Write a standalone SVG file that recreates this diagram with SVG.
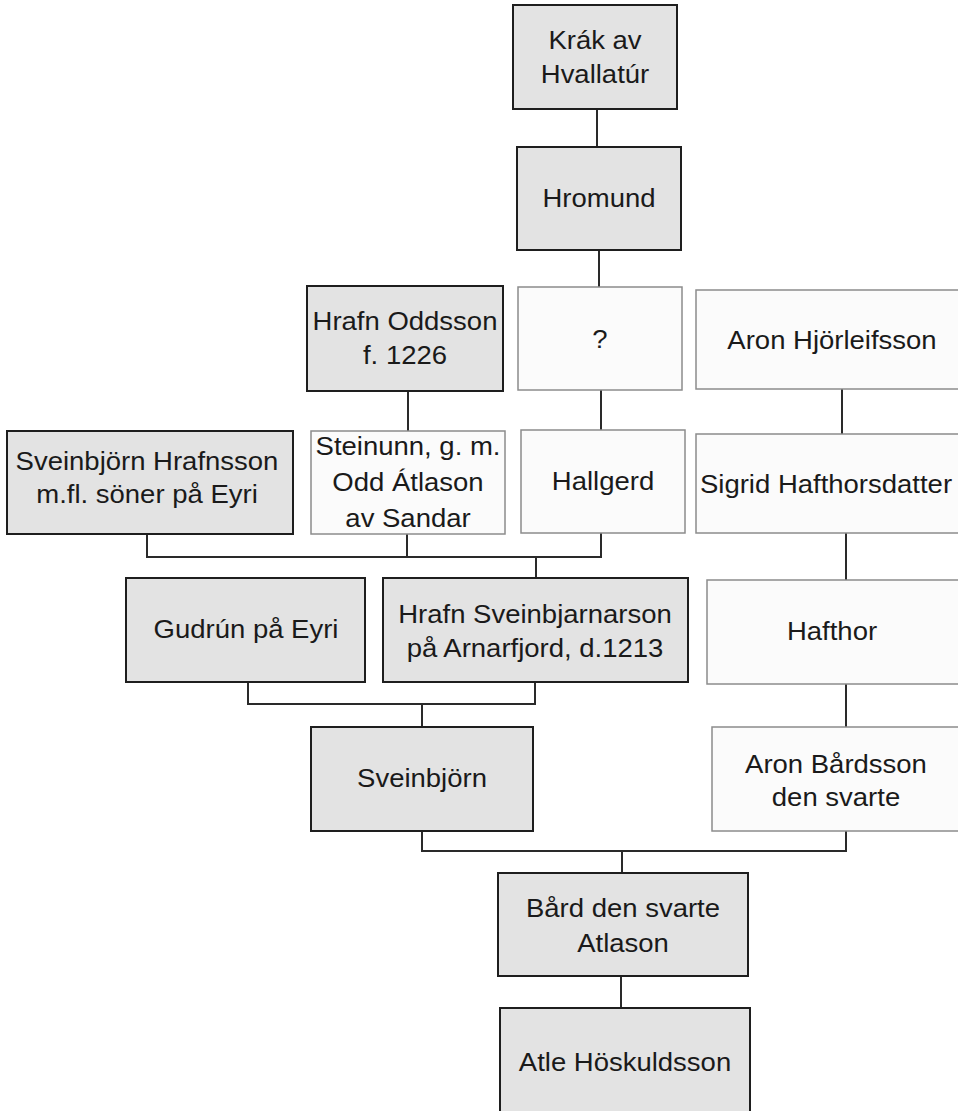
<svg xmlns="http://www.w3.org/2000/svg" width="958" height="1111" viewBox="0 0 958 1111">
<style>
.g{fill:#e3e3e3;stroke:#1e1e1e;stroke-width:2}
.w{fill:#fbfbfb;stroke:#8c8c8c;stroke-width:1.5}
text{font-family:"Liberation Sans",Arial,sans-serif;font-size:25px;fill:#1a1a1a;text-anchor:middle}
.c{fill:none;stroke:#2a2a2a;stroke-width:2}
</style>
<rect width="958" height="1111" fill="#ffffff"/>
<g id="connectors">
<path class="c" d="M597 109V147"/>
<path class="c" d="M599 250V287"/>
<path class="c" d="M408 391V431"/>
<path class="c" d="M601 390V430"/>
<path class="c" d="M842 389V434"/>
<path class="c" d="M846 533V580"/>
<path class="c" d="M846 684V727"/>
<path class="c" d="M147 534V557H601V533M407 534V557M536 557V578"/>
<path class="c" d="M248 682V704H535V682M422 704V727"/>
<path class="c" d="M422 831V851H846V831M622 851V873"/>
<path class="c" d="M621 976V1008"/>
</g>
<g id="krak"><rect class="g" x="513" y="5" width="164" height="104"/><text transform="translate(595,0) scale(1.1,1)"><tspan x="0" y="49">Krák av</tspan><tspan x="0" y="83">Hvallatúr</tspan></text></g>
<g id="hromund"><rect class="g" x="517" y="147" width="164" height="103"/><text transform="translate(599,0) scale(1.1,1)" x="0" y="207">Hromund</text></g>
<g id="hrafn-oddsson"><rect class="g" x="307" y="286" width="196" height="105"/><text transform="translate(405,0) scale(1.1,1)"><tspan x="0" y="330">Hrafn Oddsson</tspan><tspan x="0" y="364">f. 1226</tspan></text></g>
<g id="unknown"><rect class="w" x="518" y="287" width="164" height="103"/><text transform="translate(600,0) scale(1.1,1)" x="0" y="348">?</text></g>
<g id="aron-hjorleifsson"><rect class="w" x="696" y="290" width="272" height="99"/><text transform="translate(832,0) scale(1.1,1)" x="0" y="349">Aron Hjörleifsson</text></g>
<g id="sveinbjorn-hrafnsson"><rect class="g" x="7" y="431" width="286" height="103"/><text transform="translate(147,0) scale(1.1,1)"><tspan x="0" y="470">Sveinbjörn Hrafnsson</tspan><tspan x="0" y="503">m.fl. söner på Eyri</tspan></text></g>
<g id="steinunn"><rect class="w" x="311" y="431" width="194" height="103"/><text transform="translate(408,0) scale(1.1,1)"><tspan x="0" y="455">Steinunn, g. m.</tspan><tspan x="0" y="491">Odd Átlason</tspan><tspan x="0" y="527">av Sandar</tspan></text></g>
<g id="hallgerd"><rect class="w" x="521" y="430" width="164" height="103"/><text transform="translate(603,0) scale(1.1,1)" x="0" y="490">Hallgerd</text></g>
<g id="sigrid"><rect class="w" x="696" y="434" width="272" height="99"/><text transform="translate(826,0) scale(1.1,1)" x="0" y="493">Sigrid Hafthorsdatter</text></g>
<g id="gudrun"><rect class="g" x="126" y="578" width="239" height="104"/><text transform="translate(246,0) scale(1.1,1)" x="0" y="638">Gudrún på Eyri</text></g>
<g id="hrafn-sveinbjarnarson"><rect class="g" x="383" y="578" width="305" height="104"/><text transform="translate(535,0) scale(1.1,1)"><tspan x="0" y="623">Hrafn Sveinbjarnarson</tspan><tspan x="0" y="657">på Arnarfjord, d.1213</tspan></text></g>
<g id="hafthor"><rect class="w" x="707" y="580" width="261" height="104"/><text transform="translate(832,0) scale(1.1,1)" x="0" y="640">Hafthor</text></g>
<g id="sveinbjorn"><rect class="g" x="311" y="727" width="222" height="104"/><text transform="translate(422,0) scale(1.1,1)" x="0" y="787">Sveinbjörn</text></g>
<g id="aron-bardsson"><rect class="w" x="712" y="727" width="256" height="104"/><text transform="translate(836,0) scale(1.1,1)"><tspan x="0" y="773">Aron Bårdsson</tspan><tspan x="0" y="806">den svarte</tspan></text></g>
<g id="bard"><rect class="g" x="498" y="873" width="250" height="103"/><text transform="translate(623,0) scale(1.1,1)"><tspan x="0" y="917">Bård den svarte</tspan><tspan x="0" y="952">Atlason</tspan></text></g>
<g id="atle"><rect class="g" x="500" y="1008" width="250" height="112"/><text transform="translate(625,0) scale(1.1,1)" x="0" y="1071">Atle Höskuldsson</text></g>
</svg>
